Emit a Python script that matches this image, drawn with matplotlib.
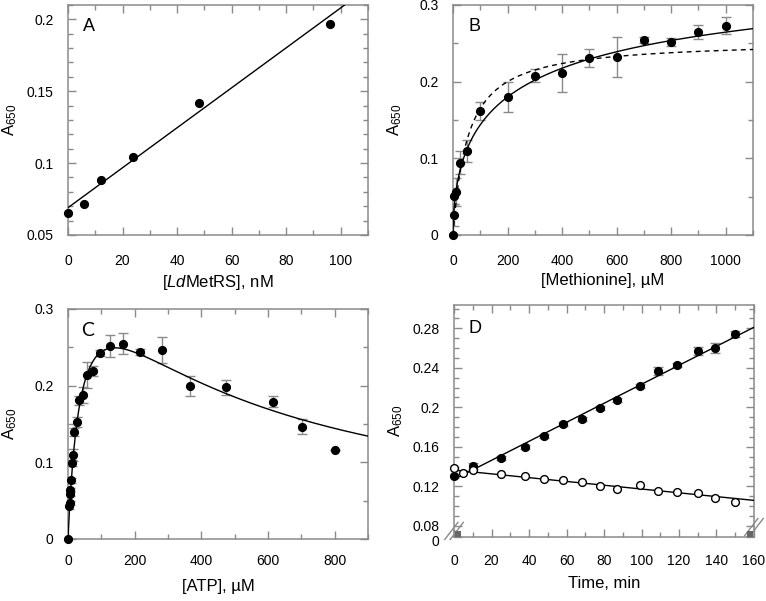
import numpy as np
import matplotlib
matplotlib.use('Agg')
import matplotlib.pyplot as plt
import matplotlib.transforms as mtransforms
from matplotlib.ticker import MultipleLocator, FuncFormatter, FixedLocator

plt.rcParams['font.family'] = ['Liberation Sans', 'DejaVu Sans']
plt.rcParams['mathtext.fontset'] = 'custom'
plt.rcParams['mathtext.rm'] = 'Liberation Sans'
plt.rcParams['mathtext.it'] = 'Liberation Sans:italic'
plt.rcParams['mathtext.default'] = 'regular'

# -- A: enzyme titration
a_x = [0, 6, 12, 24, 48, 96]
a_y = [0.0655, 0.0716, 0.0885, 0.1045, 0.1418, 0.1968]
a_fit = (0.069, 0.00139)          # intercept, slope

# -- B: methionine
b_x = [0, 2.5, 5, 10, 25, 50, 100, 200, 300, 400, 500, 600, 700, 800, 900, 1000]
b_y = [0.0, 0.026, 0.051, 0.056, 0.094, 0.110, 0.162, 0.180, 0.208, 0.211,
       0.231, 0.232, 0.254, 0.252, 0.2645, 0.273]
b_err = [0, 0.014, 0.010, 0.018, 0.015, 0.0145, 0.012, 0.0195, 0.008, 0.0245,
         0.012, 0.026, 0.004, 0.005, 0.009, 0.011]
b_hill = (0.395, 276.0, 0.55)     # Vmax, K, n  (solid)
b_mm = (0.2538, 53.8)             # Vmax, Km    (dashed)

# -- C: ATP
c_x = [0, 4, 4.5, 6, 6.5, 9, 11, 16, 19, 26, 34, 44, 58, 74, 96, 126, 164,
       217, 281, 365, 474, 615, 701, 800]
c_y = [0.0, 0.0425, 0.047, 0.059, 0.064, 0.0765, 0.099, 0.110, 0.140, 0.153,
       0.181, 0.188, 0.214, 0.219, 0.243, 0.252, 0.255, 0.244, 0.246, 0.200,
       0.198, 0.179, 0.1465, 0.116]
c_err = [0, 0.003, 0.003, 0.003, 0.003, 0.003, 0.004, 0.008, 0.005, 0.0065,
         0.006, 0.010, 0.017, 0.007, 0.004, 0.014, 0.0137, 0.004, 0.017, 0.013,
         0.0098, 0.007, 0.0098, 0.0]
c_si = (0.399, 42.0, 467.0)       # Vmax, Km, Ki

# -- D: time course
d_t = [0, 10, 25, 38, 48, 58, 68, 78, 87, 99, 109, 119, 130, 139, 150]
d_fill = [0.1307, 0.1405, 0.1489, 0.1600, 0.1705, 0.1834, 0.1880, 0.1989, 0.2077,
          0.2219, 0.2365, 0.2428, 0.2574, 0.2600, 0.2743]
d_fill_err = [0.002, 0.003, 0.002, 0.002, 0.002, 0.002, 0.002, 0.002, 0.002,
              0.002, 0.004, 0.002, 0.004, 0.005, 0.003]
d_t_open = [0, 5, 10, 25, 38, 48, 58, 68, 78, 87, 99, 109, 119, 130, 139, 150]
d_open = [0.1388, 0.1330, 0.1364, 0.1327, 0.1303, 0.1273, 0.1260, 0.1245, 0.1202,
          0.1175, 0.1209, 0.1149, 0.1145, 0.1134, 0.1084, 0.1036]
d_fit_fill = (0.127, 0.000963)
d_fit_open = (0.1364, -0.000192)

GRAY = '#8a8a8a'
W, H = 766, 601

fig = plt.figure(figsize=(W / 100, H / 100), dpi=100)


def make_ax(left, top, right, bottom):
    return fig.add_axes([left / W, 1 - bottom / H, (right - left) / W, (bottom - top) / H])


def style(ax, xpad, xlab_gap, h):
    for s in ax.spines.values():
        s.set_color(GRAY)
        s.set_linewidth(1.1)
    ax.tick_params(which='both', direction='in', top=True, right=True, color=GRAY,
                   width=1.0, labelsize=10, labelcolor='black')
    ax.tick_params(which='major', length=6)
    ax.tick_params(which='minor', length=3.5)
    ax.tick_params(axis='x', pad=xpad)
    ax.tick_params(axis='y', pad=10.5)
    ax.xaxis.set_major_formatter(FuncFormatter(lambda v, p: '%g' % round(v, 6)))
    ax.yaxis.set_major_formatter(FuncFormatter(lambda v, p: '%g' % round(v, 6)))
    ax.set_ylabel('A$_{650}$', fontsize=12)
    ax.yaxis.set_label_coords(-58 / 300, 0.5)
    ax.yaxis.label.set_va('center')
    ax.xaxis.set_label_coords(0.5, -xlab_gap / h)
    ax.xaxis.label.set_va('center')


def dots(ax, x, y, face='black', z=4):
    ax.plot(x, y, 'o', ms=5.6, mfc=face, mec='black', mew=1.0, clip_on=False, zorder=z)


def bars(ax, x, y, e):
    ax.errorbar(x, y, yerr=e, fmt='none', ecolor=GRAY, elinewidth=1.0, capsize=3.5,
                capthick=1.0, zorder=2)


# ---------------- A
ax = make_ax(68, 5, 368, 235)
xx = np.linspace(0, 110, 200)
ax.plot(xx, a_fit[0] + a_fit[1] * xx, color='black', lw=1.0, zorder=3)
dots(ax, a_x, a_y)
ax.set_xlim(0, 110)
ax.set_ylim(0.05, 0.21)
ax.xaxis.set_major_locator(MultipleLocator(20))
ax.xaxis.set_minor_locator(MultipleLocator(10))
ax.yaxis.set_major_locator(MultipleLocator(0.05))
ax.yaxis.set_minor_locator(MultipleLocator(0.01))
ax.set_xlabel(r'[$\mathit{Ld}$MetRS], nM', fontsize=12)
style(ax, 13.5, 48, 230)
ax.text(0.069, 0.906, 'A', transform=ax.transAxes, fontsize=13, ha='center', va='center')

# ---------------- B
ax = make_ax(453, 5, 753, 235)
xx = np.linspace(0.01, 1100, 600)
V, K, n = b_hill
ax.plot(xx, V / (1 + (K / xx) ** n), color='black', lw=1.0, zorder=3)
V2, K2 = b_mm
ax.plot(xx, V2 * xx / (K2 + xx), color='black', lw=1.0, ls=(0, (3.5, 3)), zorder=3)
bars(ax, b_x, b_y, b_err)
dots(ax, b_x, b_y)
ax.set_xlim(0, 1100)
ax.set_ylim(0, 0.3)
ax.xaxis.set_major_locator(MultipleLocator(200))
ax.xaxis.set_minor_locator(MultipleLocator(100))
ax.yaxis.set_major_locator(MultipleLocator(0.1))
ax.yaxis.set_minor_locator(MultipleLocator(0.05))
ax.set_xlabel('[Methionine], µM', fontsize=12)
style(ax, 14, 45, 230)
ax.text(0.072, 0.906, 'B', transform=ax.transAxes, fontsize=13, ha='center', va='center')

# ---------------- C
ax = make_ax(68, 309, 368, 539)
xx = np.linspace(0, 900, 600)
V, K, Ki = c_si
ax.plot(xx, V * xx / (K + xx + xx ** 2 / Ki), color='black', lw=1.0, zorder=3)
bars(ax, c_x, c_y, c_err)
dots(ax, c_x, c_y)
ax.set_xlim(0, 900)
ax.set_ylim(0, 0.3)
ax.xaxis.set_major_locator(MultipleLocator(200))
ax.xaxis.set_minor_locator(MultipleLocator(100))
ax.yaxis.set_major_locator(MultipleLocator(0.1))
ax.yaxis.set_minor_locator(MultipleLocator(0.05))
ax.set_xlabel('[ATP], µM', fontsize=12)
style(ax, 11, 47, 230)
ax.text(0.064, 0.906, 'C', transform=ax.transAxes, fontsize=14, ha='center', va='center',
        family=['Lato', 'DejaVu Sans'])

# ---------------- D
ax = make_ax(454, 305, 754, 537)
ybot, ytop = 0.0686, 0.3036
xx = np.linspace(0, 160, 100)
ax.plot(xx, d_fit_fill[0] + d_fit_fill[1] * xx, color='black', lw=1.0, zorder=3)
ax.plot(xx, d_fit_open[0] + d_fit_open[1] * xx, color='black', lw=1.0, zorder=3)
bars(ax, d_t, d_fill, d_fill_err)
dots(ax, d_t, d_fill)
dots(ax, d_t_open, d_open, face='white', z=5)
ax.set_xlim(0, 160)
ax.set_ylim(ybot, ytop)
ax.xaxis.set_major_locator(MultipleLocator(20))
ax.xaxis.set_minor_locator(MultipleLocator(10))
ax.set_xlabel('Time, min', fontsize=12)
style(ax, 12, 47, 232)
yt = [ybot, 0.08, 0.12, 0.16, 0.2, 0.24, 0.28]
ax.set_yticks(yt)
ax.set_yticklabels(['0', '0.08', '0.12', '0.16', '0.2', '0.24', '0.28'])
ax.yaxis.set_minor_locator(FixedLocator(np.arange(0.09, 0.305, 0.01)))
# nudge the "0" below the break a little lower, as in the original
lab0 = ax.get_yticklabels()[0]
lab0.set_transform(lab0.get_transform() + mtransforms.ScaledTranslation(0, -2.5 / 72, fig.dpi_scale_trans))
# axis-break marks and corner squares
for xc, yc in [(0.0, 0.026), (1.0, 0.043)]:
    for off in (-0.009, 0.009):
        ax.plot([xc + off - 0.022, xc + off + 0.022], [yc - 0.037, yc + 0.037],
                color=GRAY, lw=1.0, transform=ax.transAxes, clip_on=False, zorder=6)
ax.plot([0.012, 0.988], [0.014, 0.014], 's', ms=5, color='#666666', mew=0,
        transform=ax.transAxes, clip_on=False, zorder=6)
ax.text(0.071, 0.9, 'D', transform=ax.transAxes, fontsize=13, ha='center', va='center')

fig.savefig('out.png', dpi=100)
